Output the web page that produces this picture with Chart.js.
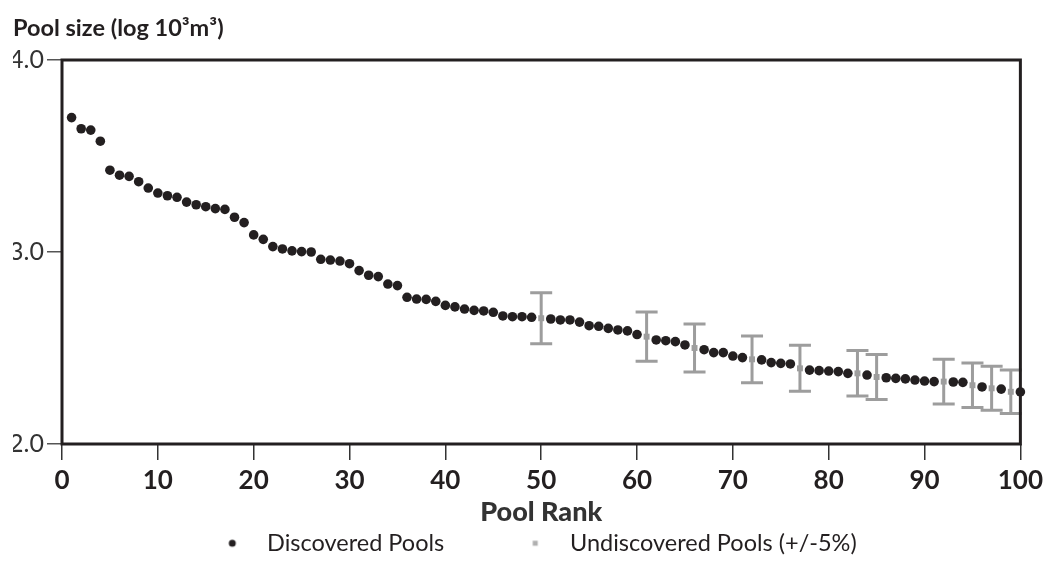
<!DOCTYPE html>
<html>
<head>
<meta charset="utf-8">
<script src="https://cdn.jsdelivr.net/npm/chart.js@4.4.1/dist/chart.umd.min.js"></script>
<style>
  html, body { margin: 0; padding: 0; background: #fff; }
  #wrap { width: 1048px; height: 565px; }
</style>
</head>
<body>
<div id="wrap"><canvas id="chart"></canvas></div>
<script>
// discovered pools: rank and log pool size
const discoveredRanks = [
  1, 2, 3, 4, 5, 6, 7, 8, 9, 10, 11, 12, 13, 14, 15, 16, 17, 18, 19, 20,
  21, 22, 23, 24, 25, 26, 27, 28, 29, 30, 31, 32, 33, 34, 35, 36, 37, 38, 39, 40,
  41, 42, 43, 44, 45, 46, 47, 48, 49, 51, 52, 53, 54, 55, 56, 57, 58, 59, 60,
  62, 63, 64, 65, 67, 68, 69, 70, 71, 73, 74, 75, 76, 78, 79, 80, 81, 82,
  84, 86, 87, 88, 89, 90, 91, 93, 94, 96, 98, 100
];
const discoveredSizes = [
  3.700, 3.642, 3.635, 3.577, 3.426, 3.400, 3.394, 3.366, 3.333, 3.307,
  3.293, 3.285, 3.260, 3.246, 3.236, 3.226, 3.222, 3.181, 3.153, 3.089,
  3.066, 3.028, 3.016, 3.006, 3.002, 3.000, 2.962, 2.958, 2.953, 2.939,
  2.903, 2.879, 2.872, 2.833, 2.825, 2.764, 2.755, 2.753, 2.743, 2.722,
  2.714, 2.703, 2.696, 2.693, 2.686, 2.667, 2.663, 2.663, 2.660, 2.651,
  2.646, 2.646, 2.635, 2.616, 2.613, 2.602, 2.594, 2.589, 2.570,
  2.542, 2.538, 2.533, 2.516, 2.491, 2.476, 2.476, 2.458, 2.450, 2.438,
  2.424, 2.420, 2.417, 2.385, 2.382, 2.380, 2.377, 2.368,
  2.359, 2.345, 2.342, 2.339, 2.333, 2.328, 2.325, 2.323, 2.321, 2.297,
  2.286, 2.271
];

// undiscovered pools, drawn with +/-5% bars
const undiscoveredRanks = [50, 61, 66, 72, 77, 83, 85, 92, 95, 97, 99];
const undiscoveredSizes = [2.655, 2.559, 2.500, 2.441, 2.394, 2.368, 2.349, 2.325, 2.306, 2.290, 2.272];
const errorPct = 0.05;

const yTicks = [2, 3, 4];

const ink = '#231f20';
const grey = '#9d9d9d';
const font = 'Lato';

// legend box is wider than the marker so the text sits further away
const legendBoxW = 77;
const legendMarkX = 54;

function legendIcon(kind) {
  const c = document.createElement('canvas');
  c.width = legendBoxW; c.height = 20;
  const g = c.getContext('2d');
  if (kind === 'dot') {
    g.fillStyle = ink;
    g.beginPath(); g.arc(legendMarkX, 10, 3.5, 0, Math.PI * 2); g.fill();
  } else {
    g.fillStyle = '#b0b0b0';
    g.fillRect(legendMarkX - 2.5, 7.5, 5, 5);
  }
  return c;
}
const legendIcons = [legendIcon('dot'), legendIcon('square')];

const errorBars = {
  id: 'errorBars',
  beforeDatasetsDraw(chart) {
    const { ctx, chartArea: a, scales: { x, y } } = chart;
    const cap = 11;
    ctx.save();
    ctx.strokeStyle = grey;
    ctx.lineWidth = 3;
    undiscoveredRanks.forEach((r, i) => {
      const v = undiscoveredSizes[i];
      const px = x.getPixelForValue(r);
      const hi = y.getPixelForValue(v * (1 + errorPct));
      const lo = y.getPixelForValue(v * (1 - errorPct));
      ctx.beginPath();
      ctx.moveTo(px, hi); ctx.lineTo(px, lo);
      ctx.moveTo(px - cap, hi); ctx.lineTo(px + cap, hi);
      ctx.moveTo(px - cap, lo); ctx.lineTo(px + cap, lo);
      ctx.stroke();
    });
    // plot frame
    ctx.strokeStyle = ink;
    ctx.lineWidth = 3;
    ctx.strokeRect(a.left, a.top, a.right - a.left, a.bottom - a.top);
    ctx.restore();
  }
};

new Chart(document.getElementById('chart'), {
  type: 'scatter',
  data: {
    datasets: [
      {
        label: 'Discovered Pools',
        data: discoveredRanks.map((r, i) => ({ x: r, y: discoveredSizes[i] })),
        backgroundColor: ink,
        borderWidth: 0,
        pointRadius: 4.8,
        pointStyle: 'circle',
        clip: false
      },
      {
        label: 'Undiscovered Pools (+/-5%)',
        data: undiscoveredRanks.map((r, i) => ({ x: r, y: undiscoveredSizes[i] })),
        backgroundColor: grey,
        borderWidth: 0,
        pointRadius: 4.2,
        pointStyle: 'rect',
        clip: false
      }
    ]
  },
  options: {
    animation: false,
    responsive: true,
    maintainAspectRatio: false,
    layout: { padding: { left: 13, right: 26, top: 0, bottom: 0 } },
    plugins: {
      tooltip: { enabled: false },
      title: {
        display: true,
        text: 'Pool size (log 10³m³)',
        align: 'start',
        color: ink,
        font: { family: font, size: 23.5, weight: 'bold' },
        padding: { top: 14, bottom: 17.8 }
      },
      legend: {
        position: 'bottom',
        labels: {
          usePointStyle: true,
          pointStyleWidth: legendBoxW,
          padding: 37,
          color: ink,
          font: { family: font, size: 23.5 },
          generateLabels(chart) {
            const items = Chart.defaults.plugins.legend.labels.generateLabels(chart);
            items.forEach((it, i) => { it.pointStyle = legendIcons[i]; });
            return items;
          }
        }
      }
    },
    scales: {
      x: {
        type: 'linear',
        min: 0,
        max: 100,
        afterFit(scale) { scale.height = 50.5; },
        ticks: { stepSize: 10, padding: 5, color: ink, font: { family: font, size: 26, weight: 'bold' } },
        grid: { drawOnChartArea: false, tickLength: 16, color: '#333', lineWidth: 1.5 },
        border: { display: false },
        title: {
          display: true,
          text: 'Pool Rank',
          color: '#333',
          font: { family: font, size: 27, weight: '900' },
          padding: { top: 0, bottom: -34 }
        }
      },
      y: {
        min: 2,
        max: 4,
        afterFit(scale) { scale.width = 49; },
        afterBuildTicks(scale) { scale.ticks = yTicks.map(v => ({ value: v })); },
        ticks: {
          padding: 3,
          color: '#333',
          font: { family: font, size: 25 },
          callback: v => v.toFixed(1)
        },
        grid: { drawOnChartArea: false, tickLength: 15, color: '#555', lineWidth: 1.5 },
        border: { display: false }
      }
    }
  },
  plugins: [errorBars]
});
</script>
</body>
</html>
